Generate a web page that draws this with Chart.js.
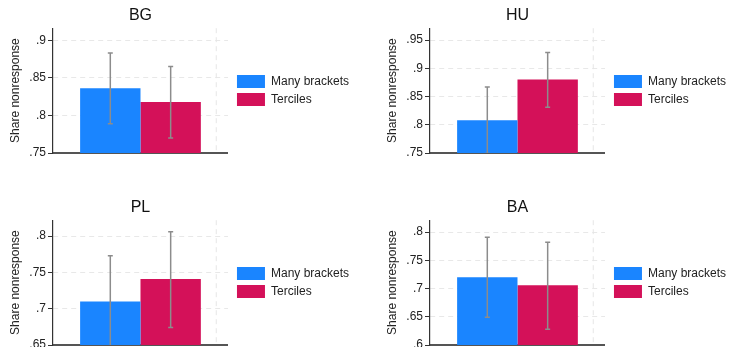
<!DOCTYPE html>
<html>
<head>
<meta charset="utf-8">
<script src="https://cdn.jsdelivr.net/npm/chart.js@4.4.1/dist/chart.umd.min.js"></script>
<style>
html, body { margin: 0; padding: 0; background: #fff; overflow: hidden; width: 733px; height: 347px; position: relative; }
.panel { position: absolute; width: 359px; height: 170px; }
</style>
</head>
<body>
<div class="panel" style="left:0;top:0"><canvas id="c0"></canvas></div>
<div class="panel" style="left:377px;top:0"><canvas id="c1"></canvas></div>
<div class="panel" style="left:0;top:192px"><canvas id="c2"></canvas></div>
<div class="panel" style="left:377px;top:192px"><canvas id="c3"></canvas></div>
<script>
// one panel per country
const countries = ['BG', 'HU', 'PL', 'BA'];
const seriesNames = ['Many brackets', 'Terciles'];

const manyBrackets = [0.836, 0.808, 0.710, 0.720];
const manyLow      = [0.789, 0.749, 0.645, 0.649];
const manyHigh     = [0.883, 0.867, 0.773, 0.791];

const terciles     = [0.818, 0.880, 0.741, 0.706];
const tercLow      = [0.770, 0.831, 0.674, 0.628];
const tercHigh     = [0.865, 0.928, 0.806, 0.782];

const axisMin = [0.75, 0.75, 0.65, 0.60];
const axisMax = [0.916, 0.971, 0.822, 0.821];
const yTicks = [
  [0.75, 0.80, 0.85, 0.90],
  [0.75, 0.80, 0.85, 0.90, 0.95],
  [0.65, 0.70, 0.75, 0.80],
  [0.60, 0.65, 0.70, 0.75, 0.80]
];

const BLUE = '#1a85ff';
const RED = '#d41159';
const FONT = "'Liberation Sans', Arial, Helvetica, sans-serif";

function fmt(v) {
  return String(+v.toFixed(2)).replace(/^0\./, '.');
}

// error bars + the dashed vertical gridline
const extras = {
  id: 'extras',
  beforeDatasetsDraw(chart, args, opts) {
    const { ctx, chartArea: a } = chart;
    const x = a.left + opts.vline * (a.right - a.left);
    ctx.save();
    ctx.strokeStyle = '#e6e6e6';
    ctx.lineWidth = 1;
    ctx.setLineDash([5, 4]);
    ctx.beginPath();
    ctx.moveTo(x, a.top);
    ctx.lineTo(x, a.bottom);
    ctx.stroke();
    ctx.restore();
  },
  afterDatasetsDraw(chart) {
    const { ctx, chartArea: a, scales: { y } } = chart;
    ctx.save();
    ctx.beginPath();
    ctx.rect(a.left, a.top, a.right - a.left, a.bottom - a.top);
    ctx.clip();
    ctx.strokeStyle = '#8c8c8c';
    ctx.lineWidth = 1.5;
    chart.data.datasets.forEach((ds, i) => {
      chart.getDatasetMeta(i).data.forEach((bar, j) => {
        const lo = y.getPixelForValue(ds.lo[j]);
        const hi = y.getPixelForValue(ds.hi[j]);
        ctx.beginPath();
        ctx.moveTo(bar.x, lo); ctx.lineTo(bar.x, hi);
        ctx.moveTo(bar.x - 2.5, lo); ctx.lineTo(bar.x + 2.5, lo);
        ctx.moveTo(bar.x - 2.5, hi); ctx.lineTo(bar.x + 2.5, hi);
        ctx.stroke();
      });
    });
    ctx.restore();
  }
};

countries.forEach((c, k) => {
  new Chart(document.getElementById('c' + k), {
    type: 'bar',
    data: {
      labels: [''],
      datasets: [
        { label: seriesNames[0], data: [manyBrackets[k]], lo: [manyLow[k]], hi: [manyHigh[k]], backgroundColor: BLUE, base: axisMin[k] - 1 },
        { label: seriesNames[1], data: [terciles[k]], lo: [tercLow[k]], hi: [tercHigh[k]], backgroundColor: RED, base: axisMin[k] - 1 }
      ]
    },
    options: {
      responsive: true,
      maintainAspectRatio: false,
      animation: false,
      events: [],
      categoryPercentage: 0.69,
      barPercentage: 1.0,
      layout: { padding: { left: 0, right: 0, top: 0, bottom: 9 } },
      scales: {
        x: {
          type: 'category',
          ticks: { display: false },
          grid: { display: false },
          border: { display: true, color: '#555', width: 2 }
        },
        y: {
          min: axisMin[k],
          max: axisMax[k],
          afterBuildTicks: s => { s.ticks = yTicks[k].map(v => ({ value: v })); },
          afterFit: s => { s.width = 53; },
          ticks: { callback: v => fmt(v), color: '#222', padding: 2, font: { family: FONT, size: 12 } },
          grid: { color: '#e8e8e8', tickColor: '#333', tickLength: 5, lineWidth: 1 },
          border: { display: true, color: '#333', width: 1.2, dash: [5, 4] },
          title: { display: true, text: 'Share nonresponse', color: '#222', padding: { top: 8, bottom: 0 }, font: { family: FONT, size: 12 } }
        },
        y2: {
          type: 'linear',
          position: 'right',
          display: true,
          ticks: { display: false },
          grid: { display: false },
          border: { display: false },
          afterFit: s => { s.width = 4; }
        }
      },
      plugins: {
        title: {
          display: true, text: c, fullSize: false, color: '#111',
          padding: { top: 6, bottom: 3 },
          font: { family: FONT, size: 16, weight: 'normal' }
        },
        legend: {
          position: 'right', fullSize: false, align: 'center', maxWidth: 160,
          labels: { boxWidth: 28, boxHeight: 13, padding: 5, color: '#222', font: { family: FONT, size: 12 } }
        },
        tooltip: { enabled: false },
        extras: { vline: 0.933 }
      }
    },
    plugins: [extras]
  });
});
</script>
</body>
</html>
